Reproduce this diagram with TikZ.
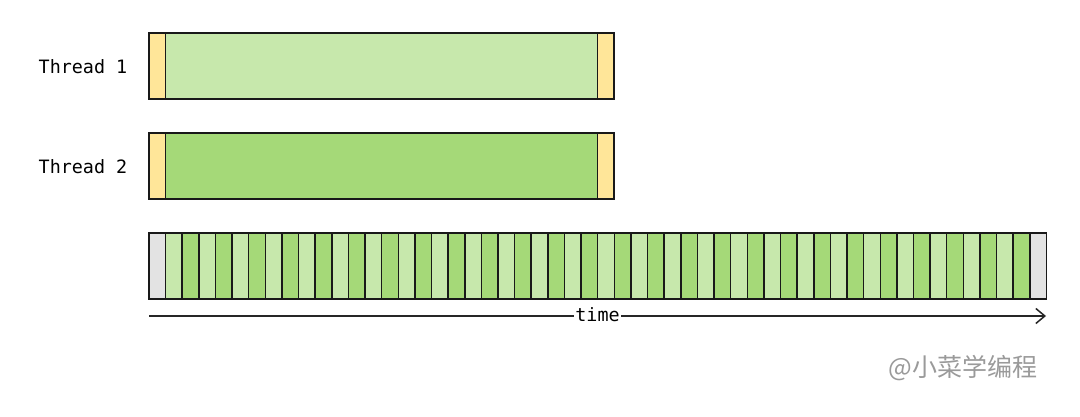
\documentclass[tikz,border=0pt]{standalone}
\usepackage{fontspec}
\setmonofont{DejaVu Sans Mono}
\newfontfamily\cjk{Noto Sans CJK SC}
\usetikzlibrary{arrows.meta}
\definecolor{lgreen}{HTML}{C7E8AC}
\definecolor{dgreen}{HTML}{A5D978}
\definecolor{yel}{HTML}{FFE699}
\definecolor{gry}{HTML}{E3E3E3}
\definecolor{wm}{HTML}{9A9A9A}
\tikzset{
  cell/.style={draw=black!90, line width=1.5pt, inner sep=0pt, outer sep=0pt, anchor=north west, minimum height=66pt},
  lbl/.style={font=\ttfamily\fontsize{18.4}{20}\selectfont, inner sep=0pt}
}
\begin{document}
\begin{tikzpicture}[x=1pt,y=-1pt]
\useasboundingbox (0,0) rectangle (1080,416);
\fill[white] (0,0) rectangle (1080,416);
% Thread 1
\node[cell, fill=lgreen, minimum width=465pt] (t1) at (149,33) {};
\node[cell, fill=yel, minimum width=16.6pt] (t1a) at (149,33) {};
\node[cell, fill=yel, minimum width=16.6pt] (t1b) at (597.4,33) {};
\node[lbl] (l1) at (83,67) {Thread 1};
% Thread 2
\node[cell, fill=dgreen, minimum width=465pt] (t2) at (149,133) {};
\node[cell, fill=yel, minimum width=16.6pt] (t2a) at (149,133) {};
\node[cell, fill=yel, minimum width=16.6pt] (t2b) at (597.4,133) {};
\node[lbl] (l2) at (83,167) {Thread 2};
% time slices
\node[cell, fill=gry, minimum width=16.6pt] (g0) at (149,233) {};
\foreach \i in {0,...,51}{
  \pgfmathtruncatemacro{\parity}{mod(\i,2)}
  \ifnum\parity=0 \def\col{lgreen}\else\def\col{dgreen}\fi
  \node[cell, fill=\col, minimum width=16.62pt] (s\i) at ({165.6+\i*16.62},233) {};
}
\node[cell, fill=gry, minimum width=16.6pt] (g1) at (1029.8,233) {};
% axis
\coordinate (a0) at (149,316);
\coordinate (a1) at (1046,316);
\draw[line width=1.5pt, black!85, -{Straight Barb[length=9pt,width=15pt,line width=1.5pt]}] (a0) -- (a1);
\node[lbl, fill=white, inner xsep=1pt, inner ysep=2pt] (tm) at (597.5,315) {time};
% watermark
\node[font=\cjk\fontsize{25}{27}\selectfont, text=wm, inner sep=0pt] (w) at (963,368) {@小菜学编程};
\end{tikzpicture}
\end{document}
